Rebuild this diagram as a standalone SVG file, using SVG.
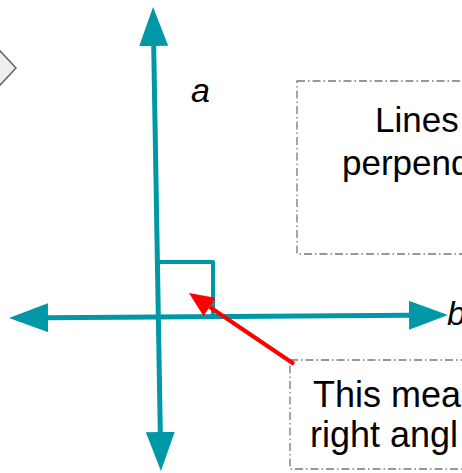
<svg xmlns="http://www.w3.org/2000/svg" width="462" height="473" viewBox="0 0 462 473">
<style>
.axis{stroke:#0097A7;stroke-width:5;fill:none;marker-start:url(#tealHead);marker-end:url(#tealHead)}
.sq{stroke:#0097A7;stroke-width:4;fill:none;stroke-linejoin:round}
.ptr{stroke:#FF0000;stroke-width:4;fill:none;marker-end:url(#redHead)}
.box{fill:none;stroke:#777777;stroke-width:1.3;stroke-dasharray:8 3 1.5 3}
.lbl{font-family:"Liberation Sans",Arial,sans-serif;fill:#000000}
.var{font-style:italic;font-size:34px}
.note{font-size:35px}
.note2{font-size:36px}
.dia{fill:#EEEEEE;stroke:#666666;stroke-width:1.5}
</style>
<defs>
<marker id="tealHead" viewBox="0 -14.5 39 29" refX="0" refY="0" markerWidth="39" markerHeight="29" markerUnits="userSpaceOnUse" orient="auto-start-reverse">
<path d="M0,-14.5 L39,0 L0,14.5 Z" fill="#0097A7"/>
</marker>
<marker id="redHead" viewBox="0 -11 25 22" refX="0" refY="0" markerWidth="25" markerHeight="22" markerUnits="userSpaceOnUse" orient="auto">
<path d="M0,-11 L25,0 L0,11 Z" fill="#FF0000"/>
</marker>
</defs>
<g id="node-diamond">
<polygon class="dia" points="-40,68 -12,38 16,68 -12,98"/>
</g>
<g id="node-box-top">
<rect class="box" x="297" y="81" width="200" height="173"/>
<text class="lbl note" x="375" y="132">Lines</text>
<text class="lbl note" x="342" y="175">perpend</text>
</g>
<g id="node-box-bottom">
<rect class="box" x="290" y="360" width="200" height="109"/>
<text class="lbl note2" x="313" y="407">This mea</text>
<text class="lbl note2" x="310" y="447">right angl</text>
</g>
<g id="node-label-a">
<text class="lbl var" x="191" y="102">a</text>
</g>
<g id="node-label-b">
<text class="lbl var" x="447" y="325">b</text>
</g>
<g id="connectors">
<line class="axis" x1="153.7" y1="46" x2="160.3" y2="432"/>
<line class="axis" x1="48" y1="317.7" x2="409" y2="315.3"/>
<polyline class="sq" points="158,262 213,262 213,316"/>
<line class="ptr" x1="294" y1="364" x2="209.7" y2="307"/>
</g>
</svg>
